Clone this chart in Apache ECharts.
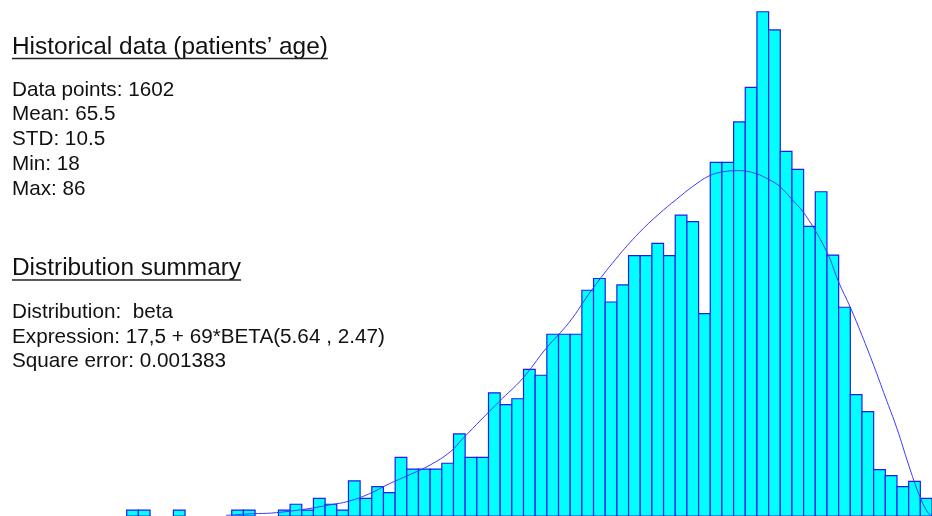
<!DOCTYPE html>
<html>
<head>
<meta charset="utf-8">
<script src="https://cdn.jsdelivr.net/npm/echarts@6/dist/echarts.min.js"></script>
<style>
  html, body { margin: 0; padding: 0; background: #fff; }
  #chart { width: 932px; height: 516px; }
</style>
</head>
<body>
<div id="chart"></div>
<script>
// histogram bins: one per year of age, 18..86
const ages = [];
for (let a = 18; a <= 86; a++) ages.push(a);
const counts = [
  1, 1, 0, 0, 1, 0, 0, 0, 0, 1,          // 18-27
  1, 0, 0, 1, 2, 1, 3, 2, 1, 6,          // 28-37
  3, 5, 4, 10, 8, 8, 8, 9, 14, 10,       // 38-47
  10, 21, 19, 20, 25, 24, 31, 31, 31, 38.5, // 48-57
  40.5, 36.5, 39.4, 44.4, 44.4, 46.5, 44.4, 51.3, 50.2, 34.5, // 58-67
  60.3, 60.3, 67.2, 73.1, 86, 82.9, 62.2, 59.1, 49.4, 55.3,   // 68-77
  44.5, 35.6, 20.7, 17.8, 7.9, 6.9, 5, 5.9, 3                  // 78-86
];

// fitted beta curve (age, count)
const fitAges = [26, 28.4, 29.9, 32.9, 34.9, 36.5, 38.3, 40.0, 41.7, 43.5, 45.2, 46.3,
  49.4, 51.4, 53.4, 55.4, 57.4, 59.4, 61.4, 63.1, 64.6, 66.0, 67.4, 68.6, 70.0,
  71.4, 72.5, 73.4, 74.5, 75.7, 77.5, 78.5, 79.5, 80.5, 81.5, 82.5, 83.5, 84.5,
  85.4, 86.1, 86.5];
const fitCounts = [0.1, 0.4, 0.5, 1.2, 1.9, 2.5, 3.8, 5.5, 7.0, 8.7, 10.9, 13.2,
  19.5, 23.4, 28.5, 33.0, 38.7, 43.8, 48.3, 51.5, 54.0, 56.2, 58.0, 58.7, 58.9,
  58.4, 57.4, 56.3, 54.0, 51.2, 45.0, 39.9, 35.6, 30.8, 25.7, 20.3, 14.9, 8.7,
  3.6, 0.7, 0];

const infoLines = ['Data points: 1602', 'Mean: 65.5', 'STD: 10.5', 'Min: 18', 'Max: 86'];
const summaryLines = ['Distribution:  beta', 'Expression: 17,5 + 69*BETA(5.64 , 2.47)', 'Square error: 0.001383'];
const heading1 = 'Historical data (patients\u2019 age)';
const heading2 = 'Distribution summary';

const fontFamily = '"Liberation Sans", Arial, Helvetica, sans-serif';
const headFont = '24.4px ' + fontFamily;
const bodyFont = '20.7px ' + fontFamily;

function textWidth(str, font) {
  const ctx = document.createElement('canvas').getContext('2d');
  ctx.font = font;
  return ctx.measureText(str).width;
}

const barData = ages.map((a, i) => [a, counts[i]]).filter(d => d[1] > 0);
const fitData = fitAges.map((a, i) => [a, fitCounts[i]]);

const graphics = [];
function heading(str, y) {
  graphics.push({
    type: 'text', left: 12, top: y - 19.5,
    style: { text: str, font: headFont, fill: '#111' }
  });
  graphics.push({
    type: 'line',
    shape: { x1: 12, y1: y + 4, x2: 12 + textWidth(str, headFont), y2: y + 4 },
    style: { stroke: '#222', lineWidth: 1.3 }
  });
}
function block(lines, y0) {
  lines.forEach((str, i) => {
    graphics.push({
      type: 'text', left: 12, top: y0 + i * 24.7 - 15.5,
      style: { text: str, font: bodyFont, fill: '#111' }
    });
  });
}
heading(heading1, 54.5);
block(infoLines, 95);
heading(heading2, 276);
block(summaryLines, 317.3);

const chart = echarts.init(document.getElementById('chart'));
chart.setOption({
  animation: false,
  backgroundColor: '#fff',
  grid: { left: 126.7, width: 806.4, top: 0, height: 517.6 },
  xAxis: { type: 'value', min: 17.5, max: 86.5, show: false },
  yAxis: { type: 'value', min: 0, max: 88, show: false },
  graphic: graphics,
  series: [
    {
      type: 'custom',
      clip: false,
      data: barData,
      renderItem: function (params, api) {
        const age = api.value(0);
        const n = api.value(1);
        const p0 = api.coord([age - 0.5, n]);
        const p1 = api.coord([age + 0.5, 0]);
        return {
          type: 'rect',
          shape: { x: p0[0], y: p0[1], width: p1[0] - p0[0], height: p1[1] - p0[1] },
          style: { fill: '#00ffff', stroke: '#1c1cf0', lineWidth: 1.2 }
        };
      },
      z: 2
    },
    {
      type: 'line',
      data: fitData,
      smooth: 0.4,
      showSymbol: false,
      lineStyle: { color: '#3a3aff', width: 1 },
      z: 3
    }
  ]
});
</script>
</body>
</html>
